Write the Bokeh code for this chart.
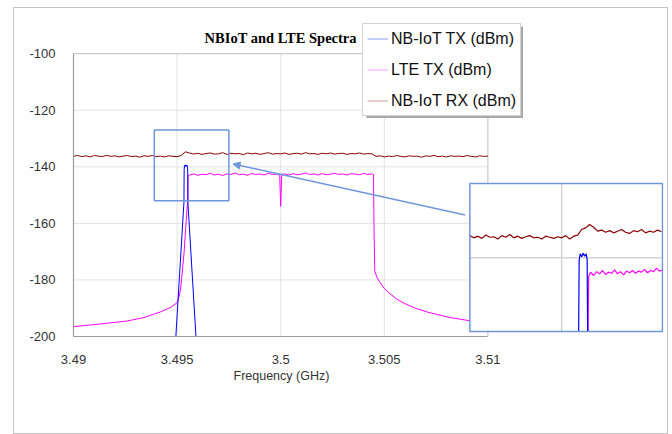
import numpy as np
from bokeh.plotting import figure
from bokeh.models import (Range1d, FixedTicker, Legend, LegendItem, Arrow, NormalHead,
                          Label, Title)
from bokeh.embed import file_html
from bokeh.resources import INLINE

# ---------------- data ----------------
x_ticks = [3.49, 3.495, 3.5, 3.505, 3.51]
x_tick_labels = ["3.49", "3.495", "3.5", "3.505", "3.51"]
y_ticks = [-200, -180, -160, -140, -120, -100]
y_tick_labels = ["-200", "-180", "-160", "-140", "-120", "-100"]

title_text = "NBIoT and LTE Spectra"
x_label = "Frequency (GHz)"
series_names = ["NB-IoT TX (dBm)", "LTE TX (dBm)", "NB-IoT RX (dBm)"]

# NB-IoT RX (dBm), main view
rx_freq = [
    3.4900, 3.4902, 3.4904, 3.4906, 3.4908, 3.4910, 3.4912, 3.4914, 3.4916, 3.4918,
    3.4920, 3.4922, 3.4924, 3.4926, 3.4928, 3.4930, 3.4932, 3.4934, 3.4936, 3.4938,
    3.4940, 3.4942, 3.4944, 3.4946, 3.4948, 3.4950, 3.4952, 3.4954, 3.4956, 3.4958,
    3.4960, 3.4962, 3.4964, 3.4966, 3.4968, 3.4970, 3.4972, 3.4974, 3.4976, 3.4978,
    3.4980, 3.4982, 3.4984, 3.4986, 3.4988, 3.4990, 3.4992, 3.4994, 3.4996, 3.4998,
    3.5000, 3.5002, 3.5004, 3.5006, 3.5008, 3.5010, 3.5012, 3.5014, 3.5016, 3.5018,
    3.5020, 3.5022, 3.5024, 3.5026, 3.5028, 3.5030, 3.5032, 3.5034, 3.5036, 3.5038,
    3.5040, 3.5042, 3.5044, 3.5046, 3.5048, 3.5050, 3.5052, 3.5054, 3.5056, 3.5058,
    3.5060, 3.5062, 3.5064, 3.5066, 3.5068, 3.5070, 3.5072, 3.5074, 3.5076, 3.5078,
    3.5080, 3.5082, 3.5084, 3.5086, 3.5088, 3.5090, 3.5092, 3.5094, 3.5096, 3.5098,
    3.5100,
]
rx_dbm = [
    -136.3, -136.0, -136.4, -136.1, -136.5, -136.0, -136.2, -136.4, -135.9, -136.3,
    -136.1, -136.5, -136.2, -136.0, -136.4, -136.2, -136.6, -136.1, -136.3, -136.0,
    -136.4, -136.2, -136.5, -136.1, -136.3, -136.4, -136.0, -134.7, -135.1, -135.5,
    -135.2, -135.6, -135.3, -135.1, -135.5, -135.4, -135.0, -135.6, -135.2, -135.4,
    -135.3, -135.7, -135.1, -135.4, -135.2, -135.6, -135.3, -135.0, -135.5, -135.3,
    -135.4, -135.1, -135.6, -135.3, -135.2, -135.5, -135.0, -135.4, -135.3, -135.6,
    -135.2, -135.4, -135.1, -135.5, -135.3, -135.2, -135.6, -135.3, -135.4, -135.1,
    -135.5, -135.3, -135.4, -136.3, -136.1, -136.5, -136.2, -136.4, -136.0, -136.3,
    -136.5, -136.1, -136.3, -136.2, -136.6, -136.1, -136.3, -136.0, -136.4, -136.2,
    -136.5, -136.1, -136.3, -136.2, -136.4, -136.0, -136.3, -136.5, -136.1, -136.3,
    -136.2,
]

# LTE TX (dBm), main view
lte_freq = [
    3.4900, 3.4910, 3.4920, 3.4926, 3.4934, 3.4942, 3.4947, 3.4950, 3.4951, 3.49518,
    3.49534, 3.49547, 3.49552, 3.49553,
    3.4956, 3.4958, 3.4960, 3.4962, 3.4964, 3.4966, 3.4968, 3.4970, 3.4972, 3.4974,
    3.4976, 3.4978, 3.4980, 3.4982, 3.4984, 3.4986, 3.4988, 3.4990, 3.4992, 3.4994,
    3.4996, 3.4998, 3.49995, 3.5000, 3.50005, 3.5002, 3.5004, 3.5006, 3.5008, 3.5010,
    3.5012, 3.5014, 3.5016, 3.5018, 3.5020, 3.5022, 3.5024, 3.5026, 3.5028, 3.5030,
    3.5032, 3.5034, 3.5036, 3.5038, 3.5040, 3.5042, 3.5044, 3.50448,
    3.50450, 3.50454, 3.50466, 3.50478, 3.50500, 3.50520, 3.50560, 3.50600, 3.50650,
    3.50710, 3.50810, 3.50910, 3.51000,
]
lte_dbm = [
    -196.5, -195.8, -195.0, -194.5, -193.3, -191.3, -189.7, -188.0, -185.9, -182.6,
    -170.0, -155.7, -152.0, -143.1,
    -142.9, -142.5, -143.0, -142.6, -142.8, -142.3, -142.9, -142.6, -143.1, -142.5,
    -142.7, -142.2, -142.8, -142.6, -143.0, -142.4, -142.7, -142.5, -142.9, -142.3,
    -142.7, -142.6, -142.7, -154.0, -142.6, -142.5, -142.9, -142.4, -142.8, -142.6,
    -142.2, -142.7, -142.5, -142.9, -142.4, -142.8, -142.6, -142.3, -142.7, -142.5,
    -142.9, -142.4, -142.6, -142.8, -142.3, -142.7, -142.5, -142.8,
    -160.0, -177.0, -179.3, -180.8, -183.0, -184.4, -186.8, -188.4, -190.0,
    -191.4, -193.2, -194.4, -195.3,
]

# NB-IoT TX (dBm), main view
nb_freq = [3.49494, 3.49533, 3.49534, 3.49536, 3.49539, 3.49542, 3.49545, 3.49548,
           3.49551, 3.49552, 3.49591]
nb_dbm = [-200.0, -152.5, -141.0, -139.5, -139.9, -139.3, -139.8, -139.4,
          -140.8, -152.5, -200.0]

# Zoomed inset (finer sweep around the NB-IoT carrier)
inset_rx_freq = [
    3.49316, 3.49324, 3.49332, 3.49340, 3.49348, 3.49356, 3.49364, 3.49372, 3.49380, 3.49388,
    3.49396, 3.49404, 3.49412, 3.49420, 3.49428, 3.49436, 3.49444, 3.49452, 3.49460, 3.49468,
    3.49476, 3.49484, 3.49492, 3.49500, 3.49508, 3.49516, 3.49524, 3.49532, 3.49540, 3.49548,
    3.49556, 3.49564, 3.49572, 3.49580, 3.49588, 3.49596, 3.49604, 3.49612, 3.49620, 3.49628,
    3.49636, 3.49644, 3.49652, 3.49660, 3.49668, 3.49676, 3.49684, 3.49692, 3.49700,
]
inset_rx_dbm = [
    -136.0, -136.4, -136.1, -136.5, -135.9, -136.3, -136.2, -136.6, -136.0, -136.3,
    -135.8, -136.4, -136.1, -136.5, -136.2, -136.0, -136.4, -136.3, -136.6, -136.1,
    -136.3, -136.5, -136.2, -136.4, -136.0, -136.6, -136.1, -135.9, -134.9, -134.6,
    -134.0, -134.5, -135.2, -135.0, -135.4, -135.1, -135.5, -135.2, -134.9, -135.4,
    -135.6, -135.1, -135.3, -134.9, -135.5, -135.2, -135.4, -135.0, -135.3,
]
inset_nb_freq = [3.49534, 3.49535, 3.49537, 3.49540, 3.49543, 3.49546, 3.49549,
                 3.49551, 3.49552]
inset_nb_dbm = [-200.0, -140.5, -139.3, -139.8, -139.2, -139.7, -139.3, -140.3, -200.0]
inset_lte_freq = [
    3.49553, 3.49554, 3.49558, 3.49564, 3.49570, 3.49576, 3.49582, 3.49588, 3.49594,
    3.49600, 3.49606, 3.49612, 3.49618, 3.49624, 3.49630, 3.49636, 3.49642, 3.49648,
    3.49654, 3.49660, 3.49666, 3.49672, 3.49678, 3.49684, 3.49690, 3.49696, 3.49702,
]
inset_lte_dbm = [
    -160.0, -143.4, -142.6, -143.2, -142.5, -142.9, -142.3, -143.0, -142.6,
    -142.8, -142.2, -142.9, -142.5, -143.1, -142.4, -142.7, -142.3, -142.8,
    -142.4, -142.6, -142.1, -142.7, -142.3, -142.5, -141.9, -142.4, -142.2,
]

# ---------------- layout / styling constants ----------------
FRAME_W, FRAME_H = 588, 314          # plotting frame (px)
MAIN_W, MAIN_H = 413, 281            # size of the chart area 3.49..3.51 x -200..-100 (px)
INSET_PX = (395, 587, 162, 309)      # inset box in frame px: left, right, top, bottom
INSET_X = (3.49316, 3.49702)         # data window shown in the inset
INSET_Y = (-153.3, -126.6)
ZOOM_BOX = (3.4939, 3.4975, -152.0, -127.0)
ARROW = (3.5089, -157.0, 3.4977, -139.0)
LEGEND_LOC = (289, 220)              # legend bottom-left, frame px from bottom-left
LEGEND_SIZE = (156, 91)
SHADOW = 3

C_NB, C_LTE, C_RX = "#0000FF", "#FF00FF", "#8B0000"
C_NB_KEY, C_LTE_KEY, C_RX_KEY = "#8E9CF2", "#FF9CFF", "#C79A9A"
C_BOX = "#6F96DC"
C_GRID = "#e2e2e2"
FONT = "Liberation Sans"

x0, x1 = x_ticks[0], x_ticks[-1]
y0, y1 = y_ticks[0], y_ticks[-1]
x_end = x0 + (x1 - x0) * FRAME_W / MAIN_W
y_end = y0 + (y1 - y0) * FRAME_H / MAIN_H

p = figure(width=655, height=427, margin=(7, 0, 0, 13),
           x_range=Range1d(x0, x_end), y_range=Range1d(y0, y_end),
           output_backend="svg", toolbar_location=None,
           min_border_left=59, min_border_right=6, min_border_top=12, min_border_bottom=99,
           outline_line_color=None, background_fill_color="white", border_fill_color="white")
p.styles = {"border": "1px solid #c4c4c4"}

# inset ranges mapped onto the shared frame
il, ir, it, ib = INSET_PX
sx = (INSET_X[1] - INSET_X[0]) / (ir - il)
sy = (INSET_Y[1] - INSET_Y[0]) / (ib - it)
p.extra_x_ranges = {"ix": Range1d(INSET_X[0] - il * sx, INSET_X[1] + (FRAME_W - ir) * sx)}
p.extra_y_ranges = {"iy": Range1d(INSET_Y[0] - (FRAME_H - ib) * sy, INSET_Y[1] + it * sy)}

# axes
p.xaxis.ticker = FixedTicker(ticks=x_ticks)
p.xaxis.major_label_overrides = dict(zip(x_ticks, x_tick_labels))
p.xaxis.bounds = (x0, x1)
p.yaxis.ticker = FixedTicker(ticks=y_ticks)
p.yaxis.major_label_overrides = dict(zip(y_ticks, y_tick_labels))
p.yaxis.bounds = (y0, y1)
for ax in (p.xaxis, p.yaxis):
    ax.axis_line_color = "#9c9c9c"
    ax.axis_line_width = 1.2
    ax.major_tick_line_color = None
    ax.minor_tick_line_color = None
    ax.major_label_text_font = FONT
    ax.major_label_text_font_size = "13px"
    ax.major_label_text_color = "#333333"
p.xaxis.major_label_standoff = 12
p.yaxis.major_label_standoff = 12
p.xgrid.visible = False
p.ygrid.visible = False

# x-axis title, placed under the chart area
p.add_layout(Title(text=x_label, align="left", offset=160, standoff=1,
                   text_font=FONT, text_font_style="normal", text_font_size="12.5px",
                   text_color="#333333"), "below")

# gridlines limited to the chart area
gy = y_ticks[1:-1]
gx = x_ticks[1:-1]
p.segment(x0=[x0] * len(gy), x1=[x1] * len(gy), y0=gy, y1=gy, line_color=C_GRID, line_width=1)
p.segment(x0=gx, x1=gx, y0=[y0] * len(gx), y1=[y1] * len(gx), line_color=C_GRID, line_width=1)
p.quad(left=[x0], right=[x1], bottom=[y0], top=[y1],
       fill_color=None, line_color="#bdbdbd", line_width=1)

# chart title
p.add_layout(Label(x=x_ticks[2], y=y1, y_offset=8, text=title_text, text_align="center",
                   text_baseline="bottom", text_font="Liberation Serif",
                   text_font_style="bold", text_font_size="14.5px", text_color="#000000"))

# main traces
r_rx = p.line(rx_freq, rx_dbm, line_color=C_RX, line_width=1)
r_lte = p.line(lte_freq, lte_dbm, line_color=C_LTE, line_width=1)
r_nb = p.line(nb_freq, nb_dbm, line_color=C_NB, line_width=1)

# zoom marker box
p.quad(left=[ZOOM_BOX[0]], right=[ZOOM_BOX[1]], bottom=[ZOOM_BOX[2]], top=[ZOOM_BOX[3]],
       fill_color=None, line_color=C_BOX, line_width=1.5)

# inset
kw = dict(x_range_name="ix", y_range_name="iy")
p.quad(left=[INSET_X[0]], right=[INSET_X[1]], bottom=[INSET_Y[0]], top=[INSET_Y[1]],
       fill_color="white", line_color=None, **kw)
p.segment(x0=[x_ticks[1], INSET_X[0]], x1=[x_ticks[1], INSET_X[1]],
          y0=[INSET_Y[0], y_ticks[3]], y1=[INSET_Y[1], y_ticks[3]],
          line_color="#d4d4d4", line_width=1.5, **kw)
p.line(inset_rx_freq, inset_rx_dbm, line_color=C_RX, line_width=1.2, **kw)
p.line(inset_lte_freq, np.clip(inset_lte_dbm, INSET_Y[0], INSET_Y[1]),
       line_color=C_LTE, line_width=1.2, **kw)
p.line(inset_nb_freq, np.clip(inset_nb_dbm, INSET_Y[0], INSET_Y[1]),
       line_color=C_NB, line_width=1.2, **kw)
p.quad(left=[INSET_X[0]], right=[INSET_X[1]], bottom=[INSET_Y[0]], top=[INSET_Y[1]],
       fill_color=None, line_color=C_BOX, line_width=1.5, **kw)

# arrow from inset to zoom box
p.add_layout(Arrow(end=NormalHead(size=7, fill_color=C_BOX, line_color=C_BOX),
                   x_start=ARROW[0], y_start=ARROW[1], x_end=ARROW[2], y_end=ARROW[3],
                   line_color=C_BOX, line_width=1.5))

# legend drop shadow (frame px converted through the frame's scales)
def fx(px):
    return x0 + px * (x_end - x0) / FRAME_W
def fy(py):
    return y0 + py * (y_end - y0) / FRAME_H
lx, ly = LEGEND_LOC
lw, lh = LEGEND_SIZE
p.quad(left=[fx(lx + SHADOW)], right=[fx(lx + lw + SHADOW)],
       bottom=[fy(ly - SHADOW)], top=[fy(ly + lh - SHADOW)],
       fill_color="#a9a9a9", line_color=None)

# legend keys: single-point lines (draw nothing in the plot) with thin light strokes
k_nb = p.line([x0], [y0], line_color=C_NB_KEY, line_width=1)
k_lte = p.line([x0], [y0], line_color=C_LTE_KEY, line_width=1)
k_rx = p.line([x0], [y0], line_color=C_RX_KEY, line_width=1)
legend = Legend(items=[LegendItem(label=n, renderers=[r])
                       for n, r in zip(series_names, [k_nb, k_lte, k_rx])],
                location=LEGEND_LOC, glyph_width=21, glyph_height=21, label_height=21,
                spacing=10, padding=4, margin=0, label_standoff=3,
                label_text_font=FONT, label_text_font_size="16px", label_text_color="#111111",
                background_fill_color="white", background_fill_alpha=1.0,
                border_line_color="#a8a8a8", border_line_width=1)
p.add_layout(legend)

open("out.html", "w").write(file_html(p, INLINE))
